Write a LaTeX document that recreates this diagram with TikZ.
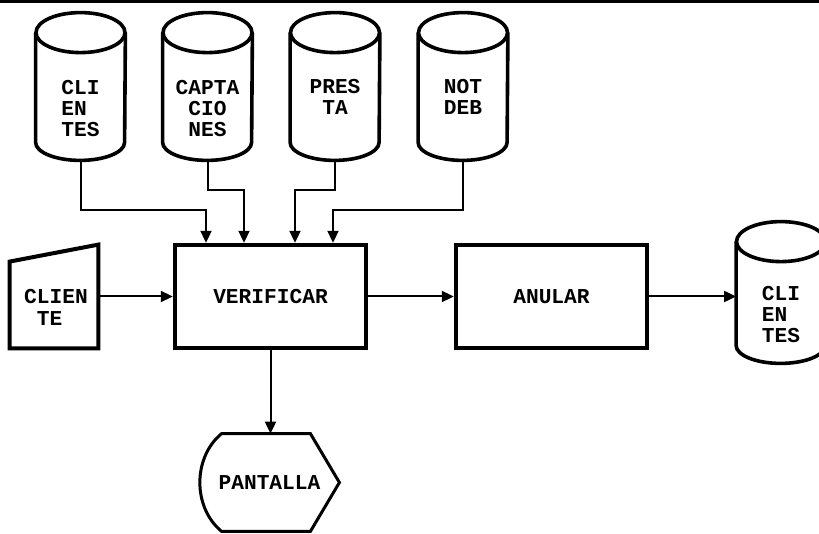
\documentclass[tikz,border=0pt]{standalone}
\usepackage{fontspec}
\setmonofont{Liberation Mono}
\usetikzlibrary{arrows.meta,calc}

\begin{document}
\begin{tikzpicture}[x=0.5pt, y=-0.5pt, font=\ttfamily\bfseries\fontsize{10.6}{10.5}\selectfont]
    \tikzstyle{block} = [rectangle, draw, line width=2.2pt, minimum width=95.5pt, minimum height=51.5pt]
    \tikzstyle{store} = [rectangle, inner sep=0pt, minimum width=44.5pt, minimum height=73.5pt]
    \tikzstyle{storetext} = [align=center, anchor=base]
    \tikzstyle{line} = [draw, line width=1pt, -{Triangle[length=6pt, width=5.5pt]}]

    \useasboundingbox (0,0) rectangle (819,534);
    \draw [line width=1.5pt] (0,1.5) -- (819,1.5);

    % archivos
    \node [store] (cli) at (80.5,86.5) {};
    \node [store] (cap) at (207.5,86.5) {};
    \node [store] (pre) at (335,86.5) {};
    \node [store] (ndb) at (463,86.5) {};
    \node [store, minimum height=70.5pt] (out) at (781,292.5) {};
    \foreach \n in {cli,cap,pre,ndb,out} {
        \draw [line width=1.8pt] ($(\n.north)+(0,20)$) ellipse [x radius=22.25pt, y radius=10pt];
        \draw [line width=1.8pt] ($(\n.north west)+(0,20)$) -- ($(\n.south west)+(0,-18)$)
            arc [start angle=180, end angle=360, x radius=22.25pt, y radius=9pt] -- ($(\n.north east)+(0,20)$);
    }
    \node [storetext, align=left] (cli-t) at (80.5,137) {CLI\\EN\\TES};
    \node [storetext] (cap-t) at (207.5,137) {CAPTA\\CIO\\NES};
    \node [storetext] (pre-t) at (335,115) {PRES\\TA};
    \node [storetext] (ndb-t) at (463,115) {NOT\\DEB};
    \node [storetext, align=left] (out-t) at (781,343) {CLI\\EN\\TES};

    \node [block] (ver) at (270.5,296.5) {VERIFICAR};
    \node [block] (anu) at (551.5,296.5) {ANULAR};

    % entrada manual
    \node [inner sep=0pt, minimum width=44pt, minimum height=51.5pt] (card) at (54,296.5) {};
    \draw [line width=2pt] (card.south west) -- (card.south east) -- (card.north east) -- ($(card.north west)+(0,17)$) -- cycle;
    \node [storetext, align=left] (card-t) at (56,325) {CLIEN\\~TE};

    % pantalla
    \node [inner sep=0pt, minimum width=69.5pt, minimum height=48.5pt] (scr) at (269.5,482.5) {PANTALLA};
    \draw [line width=1.5pt] ($(scr.north west)+(22,0)$) -- ($(scr.north east)+(-29,0)$) -- (scr.east) -- ($(scr.south east)+(-29,0)$) -- ($(scr.south west)+(22,0)$) .. controls ($(scr.west)+(-7,25)$) and ($(scr.west)+(-7,-25)$) .. cycle;

    \path [line] (cli.south) -- ++(0,50) -| ($(ver.north)+(-64.5,0)$);
    \path [line] (cap.south) -- ++(0,30) -| ($(ver.north)+(-26.5,0)$);
    \path [line] (pre.south) -- ++(0,30) -| ($(ver.north)+(24.5,0)$);
    \path [line] (ndb.south) -- ++(0,50) -| ($(ver.north)+(62.5,0)$);
    \path [line] (card) -- (ver);
    \path [line] (ver) -- (anu);
    \path [line] (anu.east) -- (anu.east -| out.west);
    \path [line] (ver.south) -- (ver.south |- scr.north);
\end{tikzpicture}
\end{document}
